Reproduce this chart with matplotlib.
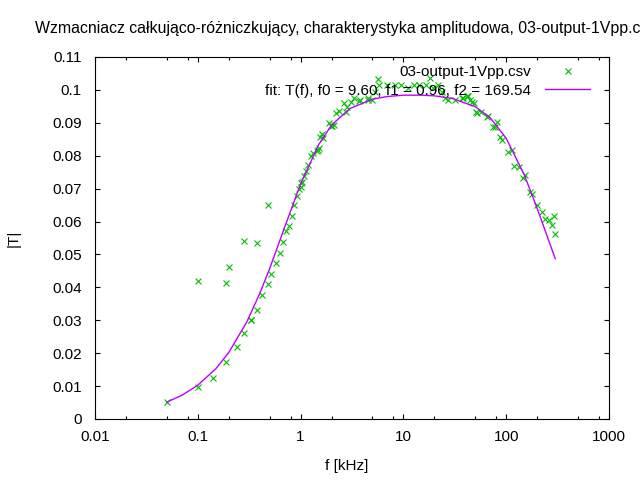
import matplotlib
matplotlib.use('Agg')
import matplotlib.pyplot as plt
from matplotlib.ticker import LogLocator, FixedLocator, NullFormatter

plt.rcParams['font.family'] = ['Liberation Sans', 'DejaVu Sans']

freq = [0.05, 0.1, 0.1, 0.14, 0.19, 0.19, 0.2, 0.24, 0.28, 0.28, 0.33, 0.33,
        0.38, 0.38, 0.42, 0.48, 0.48, 0.52, 0.57, 0.63, 0.68, 0.72, 0.77, 0.82,
        0.87, 0.93, 0.96, 1.0, 1.0, 1.03, 1.07, 1.12, 1.17, 1.27, 1.31, 1.44,
        1.47, 1.5, 1.56, 1.6, 1.67, 1.88, 1.97, 2.0, 2.1, 2.19, 2.37, 2.64,
        2.78, 2.85, 3.08, 3.3, 3.7, 3.8, 4.5, 4.5, 5.0, 5.3, 5.6, 5.8,
        7.0, 8.2, 9.4, 11.0, 12.8, 14.3, 16.7, 18.0, 19.4, 21.8, 23.6, 25.5,
        27.2, 31.6, 36.8, 38.0, 41.1, 42.5, 44.0, 46.0, 49.0, 51.4, 52.5, 57.5,
        64.5, 66.0, 75.0, 77.0, 81.0, 86.5, 91.0, 104.0, 115.0, 118.0, 132.0, 146.0,
        153.0, 170.0, 180.0, 200.0, 223.0, 240.0, 258.0, 278.0, 290.0, 300.0]
amp = [0.0052, 0.0418, 0.0098, 0.0126, 0.0173, 0.0414, 0.0461, 0.0219, 0.0261, 0.0542, 0.0300, 0.0302,
       0.0331, 0.0536, 0.0377, 0.0651, 0.0411, 0.0441, 0.0475, 0.0504, 0.0538, 0.0570, 0.0586, 0.0618,
       0.0651, 0.0678, 0.0700, 0.0705, 0.0716, 0.0720, 0.0738, 0.0754, 0.0773, 0.0799, 0.0807, 0.0815,
       0.0818, 0.0822, 0.0858, 0.0866, 0.0853, 0.0898, 0.0891, 0.0889, 0.0894, 0.0929, 0.0936, 0.0959,
       0.0932, 0.0949, 0.0964, 0.0975, 0.0966, 0.0970, 0.0975, 0.0970, 0.0970, 0.0995, 0.1033, 0.1015,
       0.1015, 0.1015, 0.1015, 0.1005, 0.1015, 0.1015, 0.1015, 0.1036, 0.1005, 0.1015, 0.0995, 0.0975,
       0.0970, 0.0970, 0.0975, 0.0975, 0.0980, 0.0980, 0.0970, 0.0964, 0.0959, 0.0934, 0.0929, 0.0934,
       0.0919, 0.0922, 0.0888, 0.0886, 0.0904, 0.0858, 0.0848, 0.0812, 0.0817, 0.0768, 0.0766, 0.0731,
       0.0741, 0.0690, 0.0685, 0.0649, 0.0629, 0.0609, 0.0604, 0.0588, 0.0616, 0.0563]

# fitted curve, sampled from the drawn line
fit_f = [0.05, 0.07, 0.1, 0.15, 0.2, 0.3, 0.4, 0.5, 0.7, 1.0, 1.5, 2.0, 3.0,
         5.0, 7.0, 10.0, 15.0, 20.0, 30.0, 50.0, 70.0, 100.0, 150.0, 200.0, 300.0]
fit_t = [0.00515, 0.0072, 0.01026, 0.01529, 0.0202, 0.0295, 0.0381, 0.0457, 0.0583, 0.0714,
         0.0834, 0.0893, 0.0943, 0.0972, 0.0980, 0.0984, 0.0984, 0.0982, 0.0974, 0.0949,
         0.0915, 0.0853, 0.0742, 0.0640, 0.0487]

title = 'Wzmacniacz całkująco-różniczkujący, charakterystyka amplitudowa, 03-output-1Vpp.csv'
fit_label = 'fit: T(f), f0 = 9.60, f1 = 0.96, f2 = 169.54'

fig = plt.figure(figsize=(6.4, 4.8), dpi=100)
ax = fig.add_axes([95 / 640, 1 - 419 / 480, 514 / 640, 362 / 480])

ax.plot(freq, amp, linestyle='none', marker='x', color='#00c000',
        markersize=5, markeredgewidth=0.8, label='03-output-1Vpp.csv')
ax.plot(fit_f, fit_t, color='#c000ff', linewidth=1.0, label=fit_label)

ax.set_xscale('log')
ax.set_xlim(0.01, 1000)
ax.set_ylim(0, 0.11)
ax.xaxis.set_major_locator(FixedLocator([0.01, 0.1, 1, 10, 100, 1000]))
ax.set_xticklabels(['0.01', '0.1', '1', '10', '100', '1000'])
ax.xaxis.set_minor_locator(LogLocator(base=10, subs=[2, 5, 8]))
ax.xaxis.set_minor_formatter(NullFormatter())
yt = [i / 100 for i in range(12)]
ax.set_yticks(yt)
ax.set_yticklabels(['0'] + ['%g' % v for v in yt[1:]])

ax.tick_params(which='both', direction='in', top=True, right=True, labelsize=11)
ax.tick_params(axis='x', pad=8)
ax.tick_params(axis='y', pad=9.5)
ax.tick_params(which='major', length=3.5, width=0.8)
ax.tick_params(which='minor', length=2.2, width=0.8)
for s in ax.spines.values():
    s.set_linewidth(0.8)

ax.set_xlabel('f [kHz]', fontsize=11, va='center')
ax.xaxis.set_label_coords(0.49, -0.13)
ax.set_ylabel('|T|', fontsize=11, va='center')
ax.yaxis.set_label_coords(-0.158, 0.5)
# the title runs past the right edge, as in the original
fig.text(35 / 640, 1 - 28 / 480, title, ha='left', va='center', fontsize=11.4)

leg = ax.legend(loc='upper right', bbox_to_anchor=(0.975, 0.995), frameon=False, fontsize=11,
                markerfirst=False, handlelength=2.95, borderaxespad=0, labelspacing=0.32,
                handletextpad=0.9)

fig.savefig('out.png', dpi=100)
